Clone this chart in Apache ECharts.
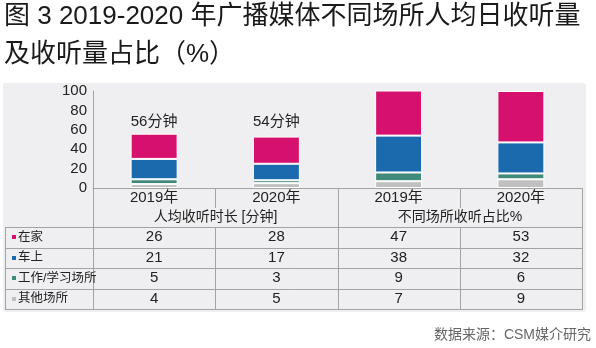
<!DOCTYPE html>
<html><head><meta charset="utf-8">
<script src="https://cdn.jsdelivr.net/npm/echarts@6/dist/echarts.min.js"></script>
<style>html,body{margin:0;padding:0;background:#fff}#c{width:596px;height:348px}</style>
</head><body><div id="c"></div>
<script>
// ---- data ----
const places = ['在家', '车上', '工作/学习场所', '其他场所'];
const years = ['2019年', '2020年', '2019年', '2020年'];
const groupLabels = ['人均收听时长 [分钟]', '不同场所收听占比%'];
const home = [26, 28, 47, 53];
const car = [21, 17, 38, 32];
const work = [5, 3, 9, 6];
const other = [4, 5, 7, 9];
const totalLabels = ['56分钟', '54分钟'];
const titleLines = ['图 3 2019-2020 年广播媒体不同场所人均日收听量', '及收听量占比（%）'];
const sourceText = '数据来源：CSM媒介研究';

const colors = ['#d5116d', '#1a6aad', '#3f8a78', '#c0c0c0'];
const rowsData = [home, car, work, other];
const FONT = '"Liberation Sans", Arial, "Noto Sans CJK SC", sans-serif';
const lineColor = '#a3a3a3';

const chart = echarts.init(document.getElementById('c'), null, {renderer: 'canvas'});

const seriesSpec = [
  {name: places[3], data: other, color: colors[3]},
  {name: places[2], data: work, color: colors[2]},
  {name: places[1], data: car, color: colors[1]},
  {name: places[0], data: home, color: colors[0]}
];

chart.setOption({
  animation: false,
  textStyle: {fontFamily: FONT},
  grid: {left: 93, right: 14, top: 91, bottom: 160},
  xAxis: {
    type: 'category', data: years,
    axisLine: {show: true, lineStyle: {color: lineColor, width: 1}},
    axisTick: {show: false},
    axisLabel: {margin: 2, fontSize: 15, color: '#222', fontFamily: FONT, interval: 0}
  },
  yAxis: {
    type: 'value', min: 0, max: 100, interval: 20,
    axisLine: {show: true, lineStyle: {color: lineColor, width: 1}},
    axisTick: {show: false},
    splitLine: {show: false},
    axisLabel: {margin: 6, fontSize: 15, color: '#222', fontFamily: FONT}
  },
  series: seriesSpec.map(s => ({
    type: 'bar', name: s.name, stack: 'total', data: s.data, barWidth: 47,
    itemStyle: {color: s.color, borderColor: '#ffffff', borderWidth: 1}
  }))
});

// ---- layout-derived table and texts ----
const px = i => chart.convertToPixel({xAxisIndex: 0}, i);
const y0 = Math.round(chart.convertToPixel({yAxisIndex: 0}, 0));
const bw = px(1) - px(0);
const edges = [0, 1, 2, 3].map(i => Math.round(px(i) - bw / 2));
edges.push(Math.round(px(3) + bw / 2));
const leftX = 5;
const groupTop = y0 + 19;
const dataTop = y0 + 39;
const rowH = 20.5;
const bottom = dataTop + rowH * 4;

const g = [];
g.push({type: 'rect', z: -10, shape: {x: 3, y: 83, width: 583, height: 229, r: 3}, style: {fill: '#efeff1'}});
const hline = (x1, x2, y) => g.push({type: 'line', z: 10, shape: {x1: x1, y1: Math.round(y) + 0.5, x2: x2, y2: Math.round(y) + 0.5}, style: {stroke: lineColor, lineWidth: 1}});
const vline = (x, y1, y2) => g.push({type: 'line', z: 10, shape: {x1: x + 0.5, y1: Math.round(y1), x2: x + 0.5, y2: Math.round(y2) + 1}, style: {stroke: lineColor, lineWidth: 1}});

for (let k = 0; k <= 4; k++) hline(leftX, edges[4], dataTop + k * rowH);
vline(leftX, dataTop, bottom);
vline(edges[0], y0, bottom);
vline(edges[2], y0, bottom);
vline(edges[4], y0, bottom);
vline(edges[1], y0, groupTop);
vline(edges[3], y0, groupTop);
vline(edges[1], dataTop, bottom);
vline(edges[3], dataTop, bottom);

const txt = (x, y, text, opts) => g.push(Object.assign({type: 'text', z: 20, x: x, y: y,
  style: Object.assign({text: text, fontFamily: FONT, fontSize: 15, fill: '#222', align: 'center', verticalAlign: 'middle'}, opts || {})}));

// group labels
txt((edges[0] + edges[2]) / 2, groupTop + 10, groupLabels[0], {fontSize: 14});
txt((edges[2] + edges[4]) / 2, groupTop + 10, groupLabels[1], {fontSize: 14});

// rows
places.forEach((p, r) => {
  const yc = dataTop + rowH * r + rowH / 2;
  g.push({type: 'rect', z: 20, shape: {x: 12, y: Math.round(yc) - 2, width: 4, height: 4}, style: {fill: colors[r]}});
  txt(18, yc, p, {align: 'left', fontSize: 12.5});
  rowsData[r].forEach((v, i) => txt(px(i), yc, String(v), {fontSize: 15}));
});

// totals above minute bars
totalLabels.forEach((t, i) => txt(px(i), 122, t));

// title & source
txt(4, 17, titleLines[0], {align: 'left', fontSize: 26, fill: '#1a1a1a'});
txt(4, 55, titleLines[1], {align: 'left', fontSize: 26, fill: '#1a1a1a'});
txt(591, 335, sourceText, {align: 'right', fontSize: 14, fill: '#666'});

chart.setOption({graphic: g});
</script></body></html>
